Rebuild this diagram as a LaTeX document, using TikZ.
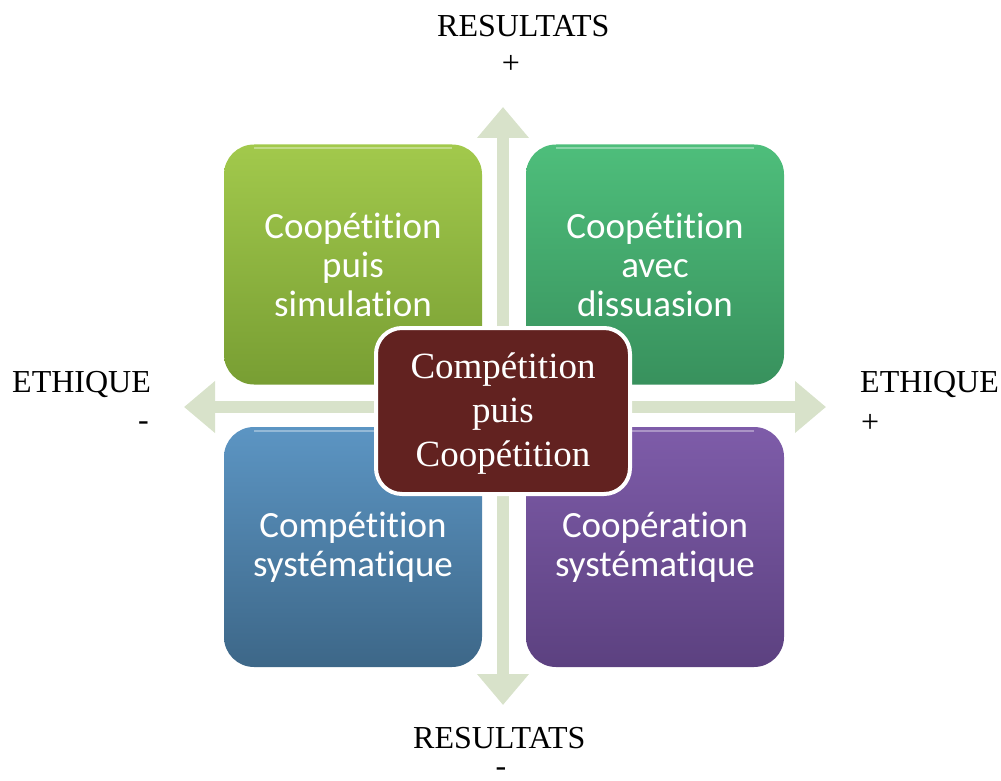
\documentclass[tikz,border=0pt]{standalone}
\usepackage{fontspec}
\setmainfont{Liberation Serif}
\newfontfamily\boxfont[Ligatures=NoCommon]{Carlito}
\usetikzlibrary{arrows.meta}

\definecolor{axisfill}{HTML}{D8E2CA}
\definecolor{greenT}{HTML}{A2C94C}
\definecolor{greenB}{HTML}{789E33}
\definecolor{tealT}{HTML}{4EBE7B}
\definecolor{tealB}{HTML}{38915D}
\definecolor{blueT}{HTML}{5C95C3}
\definecolor{blueB}{HTML}{3D6788}
\definecolor{purpT}{HTML}{7E5CA9}
\definecolor{purpB}{HTML}{5C4180}
\definecolor{core}{HTML}{622220}

\begin{document}
\begin{tikzpicture}[x=1pt,y=-1pt,
  axis/.style={line width=12pt, draw=axisfill,
    {Triangle[width=50pt,length=31pt]}-{Triangle[width=50pt,length=31pt]}},
  quad/.style={rounded corners=30pt, minimum width=258pt, minimum height=240pt,
    inner sep=0pt, text=white, align=center,
    font=\boxfont\fontsize{37}{39}\selectfont},
  gloss/.style={draw=white, draw opacity=0.35, line width=2pt},
  centre/.style={rounded corners=26pt, fill=core, draw=white, line width=4pt,
    minimum width=254pt, minimum height=166pt, inner sep=0pt},
  centretext/.style={text=white, align=center, inner sep=0pt,
    font=\fontsize{37}{44}\selectfont},
  lbl/.style={inner sep=0pt, font=\fontsize{32}{36}\selectfont}
]
\useasboundingbox (0,0) rectangle (1001,781);

% axes
\coordinate (vtop) at (503,107);
\coordinate (vbot) at (503,705);
\coordinate (hleft) at (184,407);
\coordinate (hright) at (826,407);
\draw[axis] (vbot) -- (vtop);
\draw[axis] (hleft) -- (hright);

% quadrants
\node[quad, top color=greenT, bottom color=greenB] (q1) at (353,264.5)
  {Coopétition\\puis\\simulation};
\node[quad, top color=tealT, bottom color=tealB] (q2) at (655,264.5)
  {Coopétition\\avec\\dissuasion};
\node[quad, top color=blueT, bottom color=blueB] (q3) at (353,547)
  {Compétition\\systématique};
\node[quad, top color=purpT, bottom color=purpB] (q4) at (655,547)
  {Coopération\\systématique};

% soft highlight along the top edge of each quadrant
\foreach \q in {q1,q2,q3,q4}{
  \draw[gloss] ([xshift=30pt,yshift=-4pt]\q.north west)
    -- ([xshift=-30pt,yshift=-4pt]\q.north east);
}

% centre
\node[centre] (c) at (503,411) {};
\node[centretext] (ctext) at (503,414) {Compétition\\puis\\Coopétition};

% axis labels
\node[lbl, anchor=base west] (rtop) at (437,37) {RESULTATS};
\node[lbl, anchor=base] (rtopsign) at (511,74) {+};
\node[lbl, anchor=base west] (rbot) at (413,748) {RESULTATS};
\node[lbl, anchor=base] (rbotsign) at (501,776) {-};
\node[lbl, anchor=base west] (eleft) at (12,392) {ETHIQUE};
\node[lbl, anchor=base east] (eleftsign) at (149,430) {-};
\node[lbl, anchor=base west] (eright) at (860,392) {ETHIQUE};
\node[lbl, anchor=base west] (erightsign) at (861,432) {+};
\end{tikzpicture}
\end{document}
